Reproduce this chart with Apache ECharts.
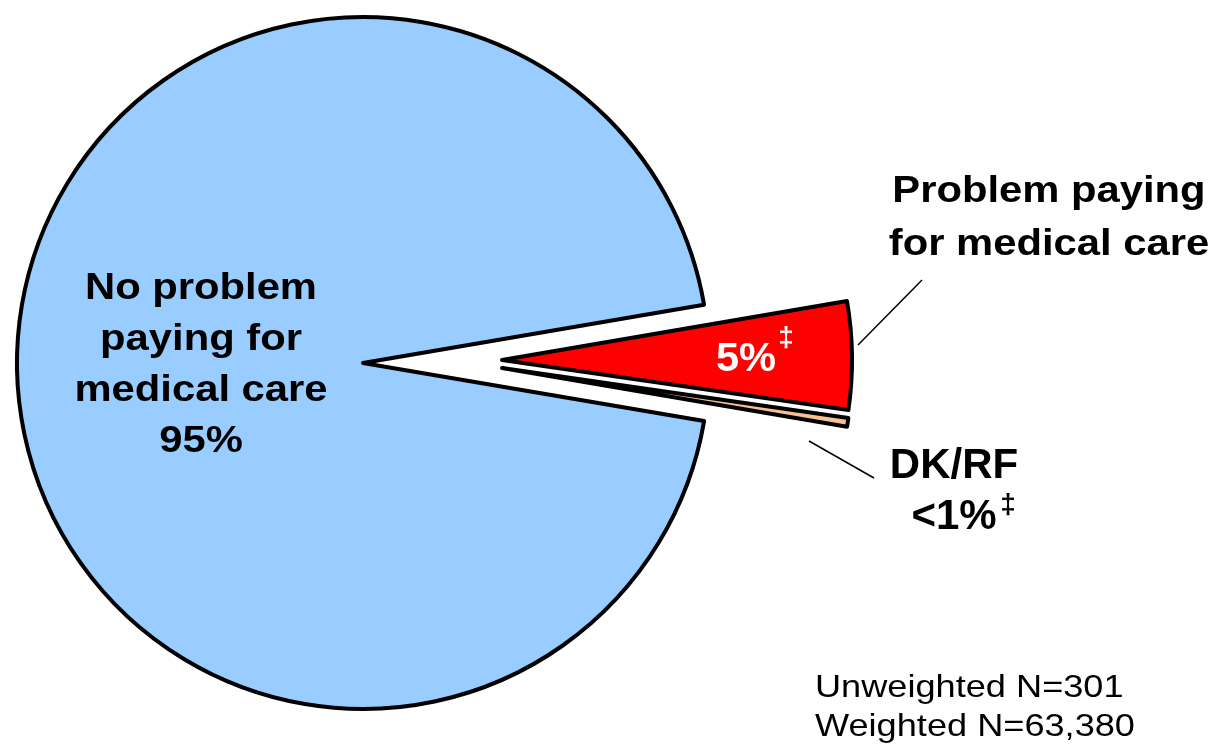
<!DOCTYPE html>
<html>
<head>
<meta charset="utf-8">
<title>Problem paying for medical care</title>
<script src="https://cdn.jsdelivr.net/npm/echarts@6/dist/echarts.min.js"></script>
<style>
  html, body { margin: 0; padding: 0; background: #ffffff; }
  #chart { width: 1218px; height: 747px; }
</style>
</head>
<body>
<div id="chart"></div>
<script>
// Slices, in drawing order (clockwise from the start angle)
const categories = ['Problem paying for medical care', 'DK/RF', 'No problem paying for medical care'];
const values = [5, 0.4, 95];
const valueLabels = ['5%', '<1%', '95%'];
const sliceColors = ['#FF0000', '#F7C28E', '#99CCFF'];
const footnoteMark = '\u2021';

// Label text for each slice
const sliceTitles = ['Problem paying\nfor medical care', 'DK/RF', 'No problem\npaying for\nmedical care'];
const sampleNotes = ['Unweighted N=301', 'Weighted N=63,380'];

const FONT = '"Liberation Sans", Arial, Helvetica, sans-serif';

// One pie series per slice so each slice can sit at its own (exploded) centre;
// the other slices in that series are left invisible.
function sliceData(visible) {
  return categories.map((name, i) => ({
    name: name,
    value: values[i],
    itemStyle: i === visible
      ? { color: sliceColors[i], borderColor: '#000000', borderWidth: 4, borderJoin: 'round' }
      : { color: 'rgba(0,0,0,0)', borderColor: 'rgba(0,0,0,0)', borderWidth: 0 }
  }));
}

function pieSeries(visible, center, radius) {
  return {
    type: 'pie',
    center: center,
    radius: radius,
    startAngle: 9.7,
    clockwise: true,
    minAngle: 0,
    avoidLabelOverlap: false,
    silent: true,
    animation: false,
    label: { show: false },
    labelLine: { show: false },
    emphasis: { disabled: true },
    data: sliceData(visible)
  };
}

function text(x, y, str, o) {
  return {
    type: 'text',
    x: x,
    y: y,
    z: 100,
    scaleX: o.scaleX || 1,
    silent: true,
    style: {
      text: str,
      fill: o.color || '#000000',
      fontFamily: FONT,
      fontSize: o.size,
      fontWeight: o.weight || 'bold',
      lineHeight: o.lineHeight || o.size,
      align: o.align || 'center',
      textAlign: o.align || 'center',
      verticalAlign: 'middle',
      textVerticalAlign: 'middle'
    }
  };
}

function line(x1, y1, x2, y2) {
  return {
    type: 'line',
    z: 100,
    silent: true,
    shape: { x1: x1, y1: y1, x2: x2, y2: y2 },
    style: { stroke: '#000000', lineWidth: 1.5 }
  };
}

const chart = echarts.init(document.getElementById('chart'), null, { renderer: 'canvas' });

chart.setOption({
  backgroundColor: '#ffffff',
  animation: false,
  series: [
    pieSeries(2, [363, 363], 346),
    pieSeries(0, [502, 360], 350),
    pieSeries(1, [502, 368], 350)
  ],
  graphic: {
    elements: [
      // Large slice label
      text(201, 366, sliceTitles[2] + '\n' + valueLabels[2], { size: 36, lineHeight: 51, scaleX: 1.16 }),
      // Exploded slice: value inside, title outside with a leader line
      text(746, 360, valueLabels[0], { size: 40, color: '#ffffff', scaleX: 1.04 }),
      text(786, 338, footnoteMark, { size: 28, color: '#ffffff' }),
      text(1049, 219, sliceTitles[0], { size: 36, lineHeight: 53, scaleX: 1.16 }),
      line(922, 280, 858, 345),
      // Don't know / refused slice
      text(954, 492, sliceTitles[1] + '\n' + valueLabels[1], { size: 42, lineHeight: 51 }),
      text(1008, 505, footnoteMark, { size: 28 }),
      line(809, 441, 874, 478),
      // Sample sizes
      text(815, 708, sampleNotes.join('\n'), { size: 32, lineHeight: 39, weight: 'normal', align: 'left', scaleX: 1.13 })
    ]
  }
});
</script>
</body>
</html>
